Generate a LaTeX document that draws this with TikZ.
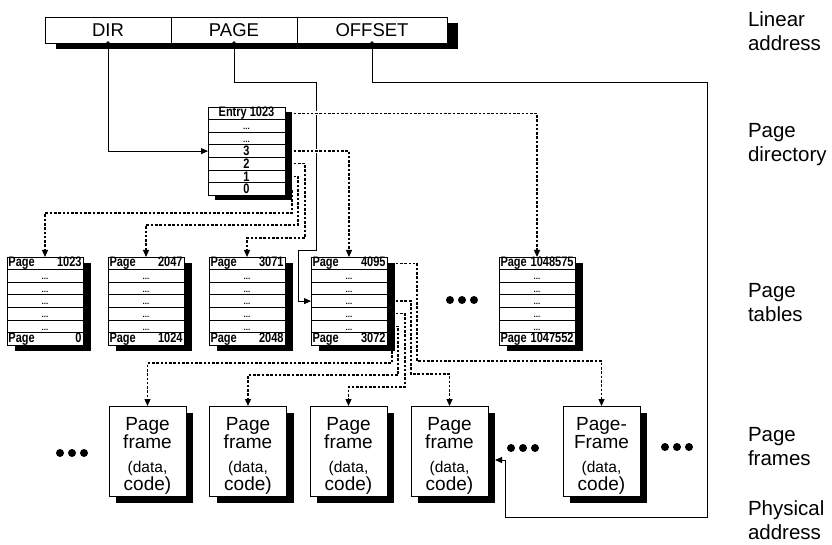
\documentclass[tikz,border=0pt]{standalone}
\usepackage{fontspec}
\setmainfont{Liberation Sans}
\usetikzlibrary{arrows.meta,shadows}

% tall, narrow lettering used inside the tables
\newcommand{\tall}[1]{\scalebox{1}[1.25]{#1}}

% one page table: name, left, top, first entry, last entry
\newcommand{\pagetable}[5]{%
  \node[tblbody, anchor=north west] (#1) at (#2,#3) {};
  \foreach \r in {0,...,6}{%
    \node[tblrow, anchor=north west] (#1-\r) at ({#2},{#3+\r*12.6}) {};
  }%
  \foreach \r in {1,...,5}{%
    \node[rowdots] at ([yshift=3pt]#1-\r.south) {...};
  }%
  \node[tbltext] at (#1-0) {\tall{\makebox[73pt]{Page\hfill #4}}};
  \node[tbltext] at (#1-6) {\tall{\makebox[73pt]{Page\hfill #5}}};
}

% text of one page frame: first line, second line
\newcommand{\frametext}[2]{#1\\#2\\[5pt]\fontsize{15.5}{16}\selectfont(data,\\code)}

\begin{document}
\begin{tikzpicture}[x=1pt, y=-1pt,
  every node/.style={outer sep=0pt},
  box/.style={draw, fill=white, line width=0.9pt, inner sep=0pt},
  barbody/.style={box, drop shadow={shadow xshift=11pt, shadow yshift=-6pt, opacity=1, fill=black}},
  field/.style={draw, line width=0.9pt, inner sep=0pt, minimum height=26pt,
    font=\fontsize{18.5}{18}\selectfont},
  tblbody/.style={box, minimum width=76pt, minimum height=88.2pt,
    drop shadow={shadow xshift=8pt, shadow yshift=-6pt, opacity=1, fill=black}},
  dirbody/.style={box, minimum width=77pt, minimum height=88.2pt,
    drop shadow={shadow xshift=7pt, shadow yshift=-5pt, opacity=1, fill=black}},
  tblrow/.style={draw, line width=0.9pt, inner sep=0pt, minimum width=76pt, minimum height=12.6pt},
  dirrow/.style={tblrow, minimum width=77pt, font=\fontsize{11}{11}\selectfont\bfseries},
  tbltext/.style={inner sep=0pt, font=\fontsize{11}{11}\selectfont\bfseries},
  rowdots/.style={inner sep=0pt, font=\fontsize{8}{8}\selectfont\bfseries},
  pframe/.style={box, minimum width=77pt, minimum height=90pt,
    drop shadow={shadow xshift=7pt, shadow yshift=-7pt, opacity=1, fill=black}},
  ftext/.style={align=center, inner sep=0pt, font=\fontsize{19}{18.5}\selectfont},
  sidelabel/.style={anchor=west, align=left, inner sep=0pt, font=\fontsize{20.5}{24}\selectfont},
  tip/.style={-{Triangle[length=7pt,width=6pt]}},
  sconn/.style={draw, line width=0.9pt},
  dconn/.style={draw, line width=1.25pt, dash pattern=on 2.6pt off 1.7pt, tip},
  gap/.style={draw=white, line width=4pt},
  threedots/.pic={\fill (-12,0) circle (4pt) (0,0) circle (4pt) (12,0) circle (4pt);}
]
\useasboundingbox (0,0) rectangle (832,545);

% ---------- linear address ----------
\node[barbody, minimum width=402pt, minimum height=26pt, anchor=north west] (bar) at (45,17) {};
\node[field, minimum width=126pt, anchor=north west] (dir) at (45,17) {DIR};
\node[field, minimum width=126pt, anchor=north west] (page) at (171,17) {PAGE};
\node[field, minimum width=150pt, anchor=north west] (off) at (297,17) {OFFSET};
\coordinate (tapD) at (dir.south);
\coordinate (tapP) at (page.south);
\coordinate (tapO) at (off.south);
\foreach \t in {tapD,tapP,tapO} \fill (\t) circle (1.8pt);

% ---------- page directory ----------
\node[dirbody, anchor=north west] (pd) at (208,107) {};
\foreach \r/\txt in {0/Entry 1023,1/,2/,3/3,4/2,5/1,6/0}{%
  \node[dirrow, anchor=north west] (pd-\r) at ({208},{107+\r*12.6}) {\tall{\txt}};
}
\foreach \r in {1,2}{\node[rowdots] at ([yshift=3pt]pd-\r.south) {...};}

% ---------- page tables ----------
\pagetable{T1}{7}{257}{1023}{0}
\pagetable{T2}{108}{257}{2047}{1024}
\pagetable{T3}{209}{257}{3071}{2048}
\pagetable{T4}{311}{257}{4095}{3072}
\pagetable{T5}{499}{257}{1048575}{1047552}
\pic at (462,300) {threedots};

% ---------- page frames ----------
\node[pframe] (F1) at (147.5,451) {};
\node[pframe] (F2) at (248,451) {};
\node[pframe] (F3) at (348.5,451) {};
\node[pframe] (F4) at (449.5,451) {};
\node[pframe] (F5) at (601.5,451) {};
\foreach \f in {F1,F2,F3,F4}
  \node[ftext] at ([yshift=-5pt]\f.center) {\frametext{Page}{frame}};
\node[ftext] at ([yshift=-5pt]F5.center) {\frametext{Page-}{Frame}};
\pic at (72,453) {threedots};
\pic at (523,448) {threedots};
\pic at (677,447) {threedots};

% ---------- side labels ----------
\node[sidelabel] (lLin) at (748,31) {Linear\\address};
\node[sidelabel] (lDir) at (748,145) {Page\\directory};
\node[sidelabel] (lTab) at (748,303) {Page\\tables};
\node[sidelabel] (lFra) at (748,447) {Page\\frames};
\node[sidelabel] (lPhy) at (748,520) {Physical\\address};

% ---------- solid address paths ----------
\draw[sconn, tip] (tapD) |- (pd-3.west);
\draw[sconn, tip] (tapP) |- (316,82) -- (316,250) -- (298,250) |- (T4-3.west);
\draw[sconn, tip] (tapO) |- (707,82) |- (505,517) |- ([xshift=7pt,yshift=-9pt]F4.east);

% ---------- directory entries to page tables ----------
\draw[gap] ([xshift=8pt]pd-0.east) -- (pd-0.east -| T5-0.north);
\draw[gap] ([xshift=8pt]pd-3.east) -- (pd-3.east -| T4-0.north);
\draw[dconn] (pd-0.east) -| (T5-0.north);
\draw[dconn] (pd-3.east) -| (T4-0.north);
\draw[dconn] (pd-4.east) -| (305,238) -| (T3-0.north);
\draw[dconn] (pd-5.east) -| (298,225) -| (T2-0.north);
\draw[dconn] (pd-6.east) -| (292,213) -| (T1-0.north);

% ---------- page table entries to page frames ----------
\draw[dconn] (T4-0.east) -| (417,361) -| (F5.north);
\draw[dconn] (T4-3.east) -| (411,374) -| (F4.north);
\draw[dconn] (T4-4.east) -| (405,387) -| (F3.north);
\draw[dconn] (T4-5.east) -| (398,375) -| (F2.north);
\draw[dconn] (T4-6.east) -| (392,363) -| (F1.north);
\end{tikzpicture}
\end{document}
